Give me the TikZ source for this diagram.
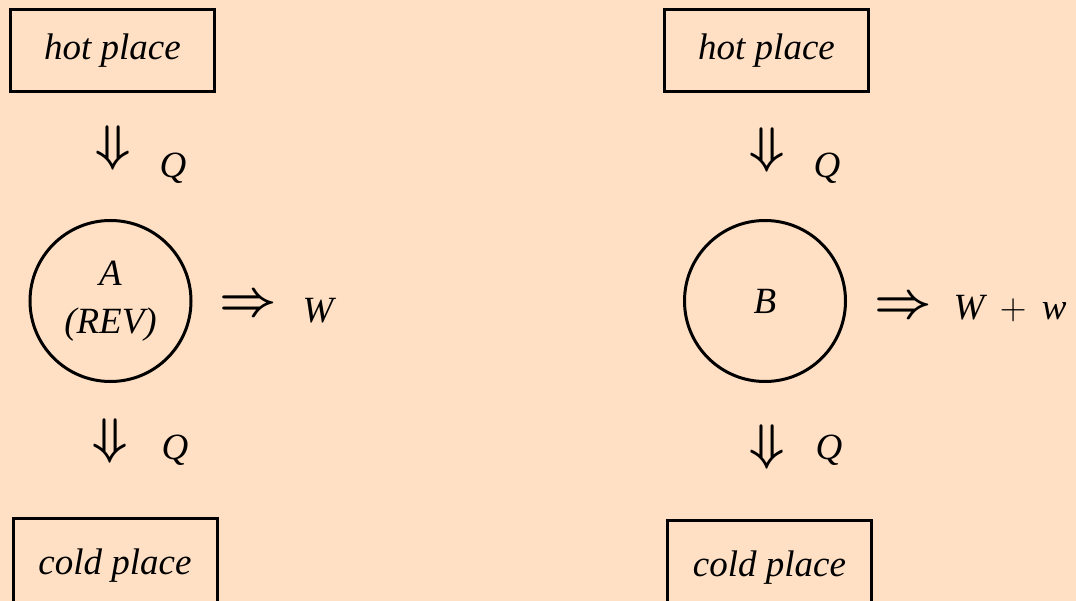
\documentclass[tikz,border=0pt]{standalone}
\usepackage{fix-cm}
\usepackage{fontspec}
\setmainfont{Liberation Serif}
\usepackage{tikz}
\definecolor{peachbg}{RGB}{255,224,196}

\begin{document}
\begin{tikzpicture}[x=1pt, y=-1pt,
    place/.style={draw, line width=3pt, minimum width=204pt, minimum height=82pt, inner sep=0pt, font=\fontsize{37}{42}\selectfont\itshape},
    engine/.style={draw, circle, line width=3pt, minimum size=161pt, inner sep=0pt, align=center, font=\fontsize{37}{42}\selectfont\itshape},
    sym/.style={inner sep=0pt, font=\fontsize{37}{42}\selectfont\itshape},
    flow/.style={inner sep=0pt, font=\fontsize{50}{54}\selectfont\boldmath}]
        \fill[peachbg] (0,0) rectangle (1076,601);
        \clip (0,0) rectangle (1076,601);
        \node[place] (hotA) at (112.5,50.5) {hot place};
        \node[flow] (inA) at (113,148) {$\Downarrow$};
        \node[sym] (qinA) at (173,168) {Q};
        \node[engine] (engA) at (110.5,301) {A\\[6pt](REV)};
        \node[flow] (outA) at (248,306) {$\Rightarrow$};
        \node[sym] (wA) at (318,311) {W};
        \node[flow] (rejA) at (110.5,441) {$\Downarrow$};
        \node[sym] (qoutA) at (175,450) {Q};
        \node[place, minimum height=94pt] (coldA) at (115,565.5) {cold place};
        \node[place] (hotB) at (766.5,51) {hot place};
        \node[flow] (inB) at (767,150) {$\Downarrow$};
        \node[sym] (qinB) at (827,168) {Q};
        \node[engine] (engB) at (765,301) {B};
        \node[flow] (outB) at (903,308) {$\Rightarrow$};
        \node[sym] (wB) at (1010,309) {W\ \,{\upshape $+$}\ \,w};
        \node[flow] (rejB) at (767,447) {$\Downarrow$};
        \node[sym] (qoutB) at (829,450) {Q};
        \node[place, minimum height=94pt] (coldB) at (769.5,567.5) {cold place};
\end{tikzpicture}
\end{document}
